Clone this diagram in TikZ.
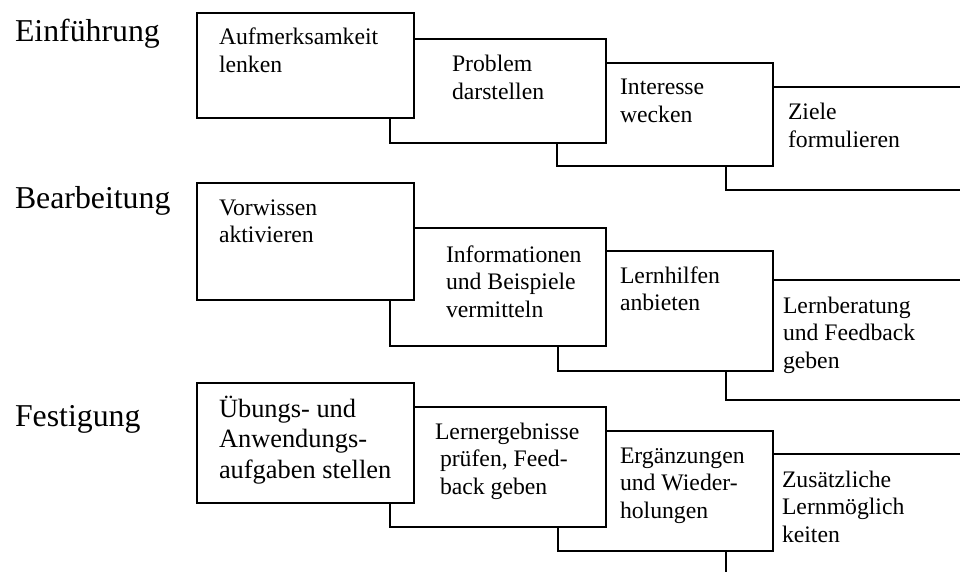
\documentclass[tikz,border=0pt]{standalone}
\usepackage{fontspec}
\setmainfont{Liberation Serif}
\newcommand{\boxfont}{\fontsize{23.7}{27.6}\selectfont}
\newcommand{\bigboxfont}{\fontsize{26.4}{30.5}\selectfont}
\newcommand{\labfont}{\fontsize{31.8}{36}\selectfont}
\newcommand{\lines}[1]{\begin{tabular}[t]{@{}l@{}}#1\end{tabular}}
\tikzset{
  stepbox/.style={draw=black, line width=1.5pt, fill=white, rectangle, inner sep=0pt, outer sep=0pt, anchor=north west},
  boxtext/.style={anchor=base west, inner sep=0pt, outer sep=0pt, font=\boxfont},
  rowlabel/.style={anchor=base west, inner sep=0pt, outer sep=0pt, font=\labfont}
}
\begin{document}
\begin{tikzpicture}[x=1pt,y=-1pt]
\useasboundingbox (0,0) rectangle (960,572);
\clip (0,0) rectangle (960,572);
\fill[white] (0,0) rectangle (960,572);
% row labels
\node[rowlabel] (l1) at (15,42) {Einführung};
\node[rowlabel] (l2) at (15,208) {Bearbeitung};
\node[rowlabel] (l3) at (15,426) {Festigung};
% Row 1 (drawn right to left so earlier boxes lie on top)
\node[stepbox, minimum width=260pt, minimum height=103pt] (r1d) at (726,87) {};
\node[stepbox, minimum width=216pt, minimum height=103pt] (r1c) at (557,63) {};
\node[stepbox, minimum width=216pt, minimum height=104pt] (r1b) at (390,39) {};
\node[stepbox, minimum width=217pt, minimum height=105pt] (r1a) at (197,13) {};
\node[boxtext] (t1a) at (219,45) {\lines{Aufmerksamkeit\\lenken}};
\node[boxtext] (t1b) at (452,72) {\lines{Problem\\darstellen}};
\node[boxtext] (t1c) at (620,95) {\lines{Interesse\\wecken}};
\node[boxtext] (t1d) at (788,120) {\lines{Ziele\\formulieren}};
% Row 2
\node[stepbox, minimum width=260pt, minimum height=120pt] (r2d) at (726,280) {};
\node[stepbox, minimum width=215pt, minimum height=120pt] (r2c) at (558,251) {};
\node[stepbox, minimum width=216pt, minimum height=118pt] (r2b) at (390,228) {};
\node[stepbox, minimum width=217pt, minimum height=117pt] (r2a) at (197,183) {};
\node[boxtext] (t2a) at (219,215) {\lines{Vorwissen\\aktivieren}};
\node[boxtext] (t2b) at (446,262) {\lines{Informationen\\und Beispiele\\vermitteln}};
\node[boxtext] (t2c) at (620,283) {\lines{Lernhilfen\\anbieten}};
\node[boxtext] (t2d) at (783,313) {\lines{Lernberatung\\und Feedback\\geben}};
% Row 3
\node[stepbox, minimum width=260pt, minimum height=140pt] (r3d) at (726,454) {};
\node[stepbox, minimum width=215pt, minimum height=120pt] (r3c) at (558,431) {};
\node[stepbox, minimum width=216pt, minimum height=120pt] (r3b) at (390,407) {};
\node[stepbox, minimum width=217pt, minimum height=120pt] (r3a) at (197,383) {};
\node[boxtext, font=\bigboxfont] (t3a) at (219,417) {\lines{Übungs- und\\Anwendungs-\\aufgaben stellen}};
\node[boxtext] (t3b) at (435,439) {\lines{Lernergebnisse\\\hspace{5pt}prüfen, Feed-\\\hspace{5pt}back geben}};
\node[boxtext] (t3c) at (620,463) {\lines{Ergänzungen\\und Wieder-\\holungen}};
\node[boxtext] (t3d) at (782,487) {\lines{Zusätzliche\\Lernmöglich\\keiten}};
\end{tikzpicture}
\end{document}
